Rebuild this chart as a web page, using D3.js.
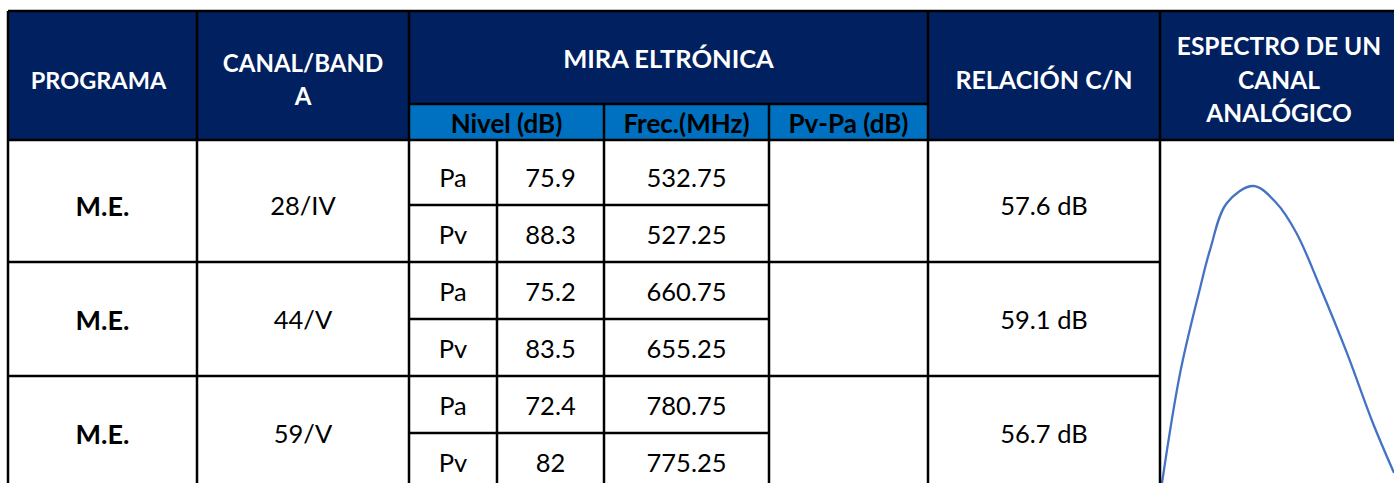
<!DOCTYPE html>
<html>
<head>
<meta charset="utf-8">
<script src="https://cdn.jsdelivr.net/npm/d3@7"></script>
<style>
  body { margin: 0; background: #fff; }
  text { font-family: Lato, "Open Sans", sans-serif; }
</style>
</head>
<body>
<div id="tabla"></div>
<script>
// datos
var programas = ["M.E.", "M.E.", "M.E."];
var canales = ["28/IV", "44/V", "59/V"];
var portadoras = ["Pa", "Pv"];
var nivelPa = [75.9, 75.2, 72.4];
var nivelPv = [88.3, 83.5, 82];
var frecPa = ["532.75", "660.75", "780.75"];
var frecPv = ["527.25", "655.25", "775.25"];
var relacionCN = [57.6, 59.1, 56.7];

// espectro (curva dibujada en la última columna)
var espectroX = [0, 7.8, 16.4, 20.7, 27.9, 39.4, 49.4, 58, 68.1, 79.7, 90.9, 100];
var espectroY = [0, 37, 65.6, 78.5, 94.2, 100, 94.2, 84.1, 66.1, 43.8, 20.2, 3.4];

var width = 1394;
var height = 483;

var navy = "#002060";
var azul = "#0070C0";

// bordes de columnas y filas
var colX = [8, 197, 409, 497, 604, 769, 928, 1160, 1402];
var top0 = 11;
var subTop = 104;
var headBottom = 140;

var rowScale = d3.scaleLinear()
    .domain([0, 6])
    .range([148, 148 + 6 * 57]);

var svg = d3.select("#tabla").append("svg")
    .attr("width", width)
    .attr("height", height);

// cabecera
svg.append("rect")
    .attr("x", colX[0]).attr("y", top0)
    .attr("width", width - colX[0]).attr("height", headBottom - top0)
    .attr("fill", navy);

svg.append("rect")
    .attr("x", colX[2]).attr("y", subTop)
    .attr("width", colX[6] - colX[2]).attr("height", headBottom - subTop)
    .attr("fill", azul);

var headers = [
    { lines: ["PROGRAMA"], cx: (colX[0] + colX[1]) / 2 - 4, cy: 80, size: 23.5 },
    { lines: ["CANAL/BAND", "A"], cx: (colX[1] + colX[2]) / 2, cy: 79, size: 24 },
    { lines: ["MIRA ELTRÓNICA"], cx: (colX[2] + colX[6]) / 2, cy: 58, size: 25.5 },
    { lines: ["RELACIÓN C/N"], cx: (colX[6] + colX[7]) / 2, cy: 79, size: 25 },
    { lines: ["ESPECTRO DE UN", "CANAL", "ANALÓGICO"], cx: (colX[7] + colX[8]) / 2 - 2, cy: 79, size: 24.5 }
];

headers.forEach(function(h) {
    var n = h.lines.length;
    h.lines.forEach(function(t, k) {
        svg.append("text")
            .attr("x", h.cx)
            .attr("y", h.cy + (k - (n - 1) / 2) * 33.5)
            .attr("text-anchor", "middle")
            .attr("dominant-baseline", "central")
            .attr("fill", "#fff")
            .style("font-weight", "bold")
            .style("font-size", h.size + "px")
            .text(t);
    });
});

var subHeaders = [
    { t: "Nivel (dB)", cx: (colX[2] + colX[4]) / 2 },
    { t: "Frec.(MHz)", cx: (colX[4] + colX[5]) / 2 },
    { t: "Pv-Pa (dB)", cx: (colX[5] + colX[6]) / 2 }
];

svg.selectAll(".sub")
    .data(subHeaders)
    .enter()
    .append("text")
        .attr("x", function(d) { return d.cx; })
        .attr("y", (subTop + headBottom) / 2 + 1)
        .attr("text-anchor", "middle")
        .attr("dominant-baseline", "central")
        .attr("fill", "#000")
        .style("font-weight", "bold")
        .style("font-size", "26px")
        .text(function(d) { return d.t; });

// celdas de datos
var grupos = d3.range(programas.length);

function celda(x0, x1, y0, y1, txt, bold) {
    svg.append("text")
        .attr("x", (x0 + x1) / 2)
        .attr("y", (y0 + y1) / 2)
        .attr("text-anchor", "middle")
        .attr("dominant-baseline", "central")
        .attr("fill", "#000")
        .style("font-weight", bold ? "bold" : "normal")
        .style("font-size", bold ? "27px" : "25.5px")
        .text(txt);
}

grupos.forEach(function(g) {
    var yA = rowScale(2 * g);
    var yB = rowScale(2 * g + 1);
    var yC = rowScale(2 * g + 2);
    celda(colX[0], colX[1], yA, yC, programas[g], true);
    celda(colX[1], colX[2], yA, yC, canales[g], false);
    celda(colX[2], colX[3], yA, yB, portadoras[0], false);
    celda(colX[2], colX[3], yB, yC, portadoras[1], false);
    celda(colX[3], colX[4], yA, yB, nivelPa[g], false);
    celda(colX[3], colX[4], yB, yC, nivelPv[g], false);
    celda(colX[4], colX[5], yA, yB, frecPa[g], false);
    celda(colX[4], colX[5], yB, yC, frecPv[g], false);
    celda(colX[6], colX[7], yA, yC, relacionCN[g] + " dB", false);
});

// espectro
var xEsp = d3.scaleLinear().domain([0, 100]).range([1162, 1394]);
var yEsp = d3.scaleLinear().domain([0, 100]).range([483, 186]);

var linea = d3.line()
    .x(function(d) { return xEsp(d[0]); })
    .y(function(d) { return yEsp(d[1]); })
    .curve(d3.curveCatmullRom.alpha(0.5));

svg.append("path")
    .datum(d3.zip(espectroX, espectroY))
    .attr("d", linea)
    .attr("fill", "none")
    .attr("stroke", "#4472C4")
    .attr("stroke-width", 2.3);

// lineas de la tabla
var lineas = [];
// horizontales
lineas.push([colX[0], top0, width, top0]);
lineas.push([colX[2], subTop, colX[6], subTop]);
lineas.push([colX[0], headBottom, width, headBottom]);
grupos.forEach(function(g) {
    if (g > 0) lineas.push([colX[0], rowScale(2 * g), colX[7], rowScale(2 * g)]);
    lineas.push([colX[2], rowScale(2 * g + 1), colX[5], rowScale(2 * g + 1)]);
});
// verticales
[0, 1, 2, 6, 7].forEach(function(c) {
    lineas.push([colX[c], top0, colX[c], height]);
});
[4, 5].forEach(function(c) {
    lineas.push([colX[c], subTop, colX[c], height]);
});
lineas.push([colX[3], headBottom, colX[3], height]);

svg.selectAll(".borde")
    .data(lineas)
    .enter()
    .append("line")
        .attr("x1", function(d) { return d[0]; })
        .attr("y1", function(d) { return d[1]; })
        .attr("x2", function(d) { return d[2]; })
        .attr("y2", function(d) { return d[3]; })
        .attr("stroke", "#000")
        .attr("stroke-width", 2.5);
</script>
</body>
</html>
